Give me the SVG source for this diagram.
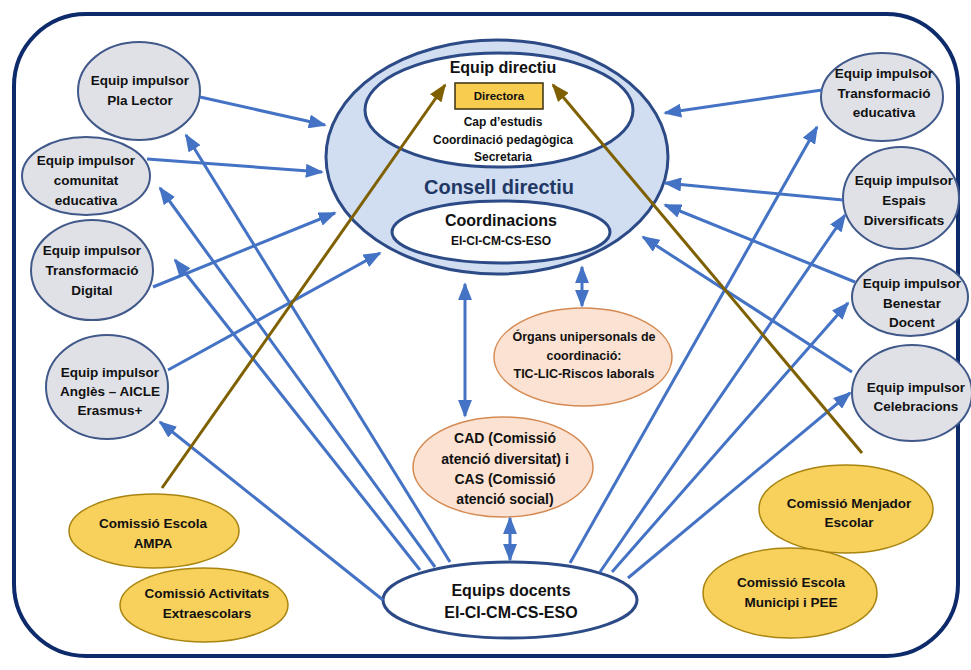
<svg xmlns="http://www.w3.org/2000/svg" width="971" height="670" viewBox="0 0 971 670">
<style>
text{font-family:"Liberation Sans",Arial,sans-serif;font-weight:bold;fill:#111;text-anchor:middle}
.grey{fill:#e0e1e7;stroke:#40598a;stroke-width:2}
.yel{fill:#f8d05c;stroke:#a88410;stroke-width:1.5}
.org{fill:#fbe2d2;stroke:#d58a52;stroke-width:1.5}
.inner{fill:#fff;stroke:#2c4a86;stroke-width:3}
.gt{font-size:13.5px}
.b{stroke:#4472c4;stroke-width:3;fill:none}
.br{stroke:#7f6000;stroke-width:3;fill:none}
</style>
<defs>
<marker id="ab" viewBox="0 0 10 10" refX="9" refY="5" markerWidth="18" markerHeight="14" markerUnits="userSpaceOnUse" orient="auto-start-reverse" preserveAspectRatio="none"><path d="M0,0L10,5L0,10z" fill="#4472c4"/></marker>
<marker id="abr" viewBox="0 0 10 10" refX="9" refY="5" markerWidth="18" markerHeight="14" markerUnits="userSpaceOnUse" orient="auto" preserveAspectRatio="none"><path d="M0,0L10,5L0,10z" fill="#7f6000"/></marker>
</defs>
<rect width="971" height="670" fill="#fff"/>
<rect x="14" y="14" width="944" height="642" rx="72" ry="72" fill="none" stroke="#0d2a6b" stroke-width="4"/>

<g id="consell">
<ellipse cx="497" cy="157" rx="171" ry="117" fill="#d1ddf1" stroke="#2c4a86" stroke-width="3"/>
<text x="499" y="194" style="font-size:20px;fill:#1f3864">Consell directiu</text>
</g>
<g id="equip-directiu">
<ellipse cx="499" cy="110" rx="134" ry="57" class="inner"/>
<text x="503" y="73" style="font-size:16px">Equip directiu</text>
<rect x="455" y="83" width="88" height="26" fill="#f8cd4f" stroke="#3a2f10" stroke-width="1.5"/>
<text x="499" y="100" style="font-size:11.5px">Directora</text>
<text x="503" y="126" style="font-size:12px">Cap d’estudis</text>
<text x="503" y="144" style="font-size:12px">Coordinació pedagògica</text>
<text x="503" y="161" style="font-size:12px">Secretaria</text>
</g>
<g id="coordinacions">
<ellipse cx="501" cy="232" rx="109" ry="31" class="inner"/>
<text x="501" y="226" style="font-size:16px">Coordinacions</text>
<text x="501" y="245" style="font-size:12px">EI-CI-CM-CS-ESO</text>
</g>

<g id="pla-lector"><ellipse cx="139" cy="91" rx="61" ry="49" class="grey"/><text class="gt" x="140" y="85">Equip impulsor</text><text class="gt" x="140" y="105">Pla Lector</text></g>
<g id="comunitat"><ellipse cx="86" cy="176" rx="64" ry="39" class="grey"/><text class="gt" x="86" y="165">Equip impulsor</text><text class="gt" x="86" y="185">comunitat</text><text class="gt" x="86" y="205">educativa</text></g>
<g id="digital"><ellipse cx="92" cy="270" rx="61" ry="50" class="grey"/><text class="gt" x="92" y="255">Equip impulsor</text><text class="gt" x="92" y="275">Transformació</text><text class="gt" x="92" y="295">Digital</text></g>
<g id="angles"><ellipse cx="107" cy="387" rx="61" ry="52" class="grey"/><text class="gt" x="110" y="377">Equip impulsor</text><text class="gt" x="110" y="396">Anglès – AICLE</text><text class="gt" x="110" y="415">Erasmus+</text></g>

<g id="transf-educativa"><ellipse cx="882" cy="97" rx="61" ry="44" class="grey"/><text class="gt" x="884" y="78">Equip impulsor</text><text class="gt" x="884" y="98">Transformació</text><text class="gt" x="884" y="117">educativa</text></g>
<g id="espais"><ellipse cx="901" cy="198" rx="58" ry="51" class="grey"/><text class="gt" x="904" y="185">Equip impulsor</text><text class="gt" x="904" y="205">Espais</text><text class="gt" x="904" y="225">Diversificats</text></g>
<g id="benestar"><ellipse cx="910" cy="297" rx="58" ry="39" class="grey"/><text class="gt" x="912" y="288">Equip impulsor</text><text class="gt" x="912" y="308">Benestar</text><text class="gt" x="912" y="327">Docent</text></g>
<g id="celebracions"><ellipse cx="912" cy="393" rx="60" ry="48" class="grey"/><text class="gt" x="916" y="392">Equip impulsor</text><text class="gt" x="916" y="411">Celebracions</text></g>

<g id="organs"><ellipse cx="583" cy="357" rx="89" ry="49" class="org"/><text x="584" y="341" style="font-size:12.5px">Órgans unipersonals de</text><text x="584" y="360" style="font-size:12.5px">coordinació:</text><text x="584" y="378" style="font-size:12.5px">TIC-LIC-Riscos laborals</text></g>
<g id="cad"><ellipse cx="503" cy="467" rx="90" ry="50" class="org"/><text x="505" y="443" style="font-size:14px">CAD (Comissió</text><text x="505" y="464" style="font-size:14px">atenció diversitat) i</text><text x="505" y="484" style="font-size:14px">CAS (Comissió</text><text x="505" y="504" style="font-size:14px">atenció social)</text></g>

<g id="equips-docents"><ellipse cx="510" cy="600" rx="127" ry="38" class="inner"/><text x="511" y="596" style="font-size:16px">Equips docents</text><text x="511" y="618" style="font-size:16px">EI-CI-CM-CS-ESO</text></g>

<g id="ampa"><ellipse cx="154" cy="531" rx="85" ry="37" class="yel"/><text class="gt" x="153" y="528">Comissió Escola</text><text class="gt" x="153" y="548">AMPA</text></g>
<g id="extraescolars"><ellipse cx="204" cy="605" rx="84" ry="37" class="yel"/><text class="gt" x="207" y="598">Comissió Activitats</text><text class="gt" x="207" y="618">Extraescolars</text></g>
<g id="menjador"><ellipse cx="846" cy="509" rx="87" ry="44" class="yel"/><text class="gt" x="849" y="508">Comissió Menjador</text><text class="gt" x="849" y="527">Escolar</text></g>
<g id="municipi"><ellipse cx="790" cy="593" rx="87" ry="45" class="yel"/><text class="gt" x="791" y="587">Comissió Escola</text><text class="gt" x="791" y="607">Municipi i PEE</text></g>

<g id="connectors">
<line class="b" x1="200" y1="97" x2="325" y2="125" marker-end="url(#ab)"/>
<line class="b" x1="147" y1="159" x2="322" y2="172" marker-end="url(#ab)"/>
<line class="b" x1="153" y1="287" x2="335" y2="213" marker-end="url(#ab)"/>
<line class="b" x1="168" y1="370" x2="380" y2="253" marker-end="url(#ab)"/>
<line class="b" x1="450" y1="562" x2="186" y2="135" marker-end="url(#ab)"/>
<line class="b" x1="435" y1="567" x2="160" y2="188" marker-end="url(#ab)"/>
<line class="b" x1="420" y1="570" x2="175" y2="260" marker-end="url(#ab)"/>
<line class="b" x1="383" y1="600" x2="160" y2="422" marker-end="url(#ab)"/>
<line class="b" x1="822" y1="90" x2="665" y2="113" marker-end="url(#ab)"/>
<line class="b" x1="843" y1="200" x2="665" y2="183" marker-end="url(#ab)"/>
<line class="b" x1="855" y1="282" x2="665" y2="205" marker-end="url(#ab)"/>
<line class="b" x1="852" y1="372" x2="643" y2="237" marker-end="url(#ab)"/>
<line class="b" x1="570" y1="563" x2="817" y2="127" marker-end="url(#ab)"/>
<line class="b" x1="600" y1="572" x2="845" y2="215" marker-end="url(#ab)"/>
<line class="b" x1="612" y1="572" x2="848" y2="303" marker-end="url(#ab)"/>
<line class="b" x1="628" y1="578" x2="850" y2="393" marker-end="url(#ab)"/>
<line class="b" x1="465" y1="284" x2="465" y2="416" marker-start="url(#ab)" marker-end="url(#ab)"/>
<line class="b" x1="582" y1="267" x2="582" y2="306" marker-start="url(#ab)" marker-end="url(#ab)"/>
<line class="b" x1="510" y1="518" x2="510" y2="560" marker-start="url(#ab)" marker-end="url(#ab)"/>
<line class="br" x1="162" y1="488" x2="445" y2="85" marker-end="url(#abr)"/>
<line class="br" x1="862" y1="453" x2="553" y2="85" marker-end="url(#abr)"/>
</g>
</svg>
